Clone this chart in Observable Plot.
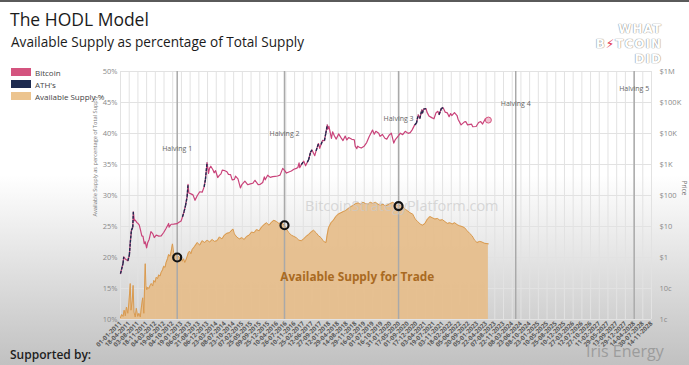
<!DOCTYPE html>
<html><head><meta charset="utf-8">
<script src="https://cdn.jsdelivr.net/npm/d3@7"></script>
<script src="https://cdn.jsdelivr.net/npm/@observablehq/plot@0.6"></script>
<style>
html,body{margin:0;padding:0}
body{width:689px;height:365px;overflow:hidden;position:relative;background:linear-gradient(to bottom,#ffffff 0%,#ffffff 48%,#c1c1c1 100%);font-family:"Open Sans",sans-serif}
#topbar{position:absolute;left:0;top:0;width:689px;height:2px;background:#5a5a5a}
#title{position:absolute;left:10px;top:11px;font-size:17.5px;line-height:1;color:#1b1b1b;font-weight:500;white-space:nowrap}
#subtitle{position:absolute;left:11px;top:35px;font-size:13.6px;line-height:1;color:#1b1b1b;white-space:nowrap}
#legend{position:absolute;left:11px;top:66px;z-index:2;font-size:8px;color:#444}
.row{display:flex;align-items:center;height:12px}
.sw{width:20px;height:8px;margin-right:4px}
#chart{position:absolute;left:0;top:60px}
#logo{position:absolute;right:27px;top:22px;text-align:right;font-weight:700;font-size:12px;line-height:15px;letter-spacing:1px;color:#fff;text-shadow:0 0 1px #888,0 0 1px #888;font-family:"DejaVu Sans",sans-serif}
#logo .bolt{color:#e0304a;text-shadow:none}
#supported{position:absolute;left:10px;top:346px;font-size:12px;font-weight:600;color:#1e1e1e}
#iris{position:absolute;left:586px;top:343px;font-size:16px;line-height:1.1;color:#9c9c9c;font-family:"Open Sans",sans-serif}
</style></head>
<body>
<div id="topbar"></div>
<div id="title">The HODL Model</div>
<div id="subtitle">Available Supply as percentage of Total Supply</div>
<div id="legend"></div>
<div id="chart"></div>
<div id="logo">WHAT<br>B<span class="bolt">⚡</span>TCOIN<br>DID</div>
<div id="supported">Supported by:</div>
<div id="iris">Iris Energy</div>
<script>
// ---------- DATA ----------
const priceDates = ["2011-01-01","2011-02-01","2011-02-10","2011-03-01","2011-04-01","2011-04-20","2011-05-01","2011-05-15","2011-06-01","2011-06-08","2011-06-20","2011-07-01","2011-07-20","2011-08-01","2011-08-20","2011-09-01","2011-09-20","2011-10-05","2011-10-20","2011-11-01","2011-11-18","2011-12-01","2011-12-20","2012-01-10","2012-02-01","2012-02-20","2012-03-15","2012-04-15","2012-05-15","2012-06-15","2012-07-15","2012-08-15","2012-08-20","2012-09-15","2012-10-15","2012-11-28","2012-12-15","2013-01-15","2013-02-01","2013-02-20","2013-03-10","2013-03-30","2013-04-10","2013-04-20","2013-05-10","2013-06-10","2013-07-05","2013-08-01","2013-09-01","2013-10-01","2013-10-25","2013-11-10","2013-11-30","2013-12-18","2013-12-30","2014-01-15","2014-02-10","2014-02-25","2014-03-15","2014-04-10","2014-04-30","2014-05-20","2014-06-05","2014-07-01","2014-08-01","2014-08-20","2014-09-15","2014-10-05","2014-11-01","2014-11-15","2014-12-15","2015-01-14","2015-02-01","2015-03-10","2015-04-15","2015-05-15","2015-06-15","2015-07-12","2015-08-20","2015-09-15","2015-10-15","2015-11-04","2015-11-15","2015-12-15","2016-01-15","2016-02-15","2016-03-15","2016-04-15","2016-05-15","2016-06-17","2016-07-09","2016-08-02","2016-09-01","2016-10-01","2016-11-01","2016-12-01","2016-12-20","2017-01-04","2017-01-12","2017-02-01","2017-03-03","2017-03-25","2017-04-15","2017-05-01","2017-05-25","2017-06-12","2017-07-16","2017-08-01","2017-08-31","2017-09-15","2017-10-01","2017-10-20","2017-11-12","2017-11-28","2017-12-17","2017-12-22","2018-01-06","2018-02-06","2018-02-20","2018-03-15","2018-04-06","2018-05-05","2018-06-01","2018-06-28","2018-07-25","2018-08-14","2018-09-05","2018-10-15","2018-11-14","2018-11-25","2018-12-15","2018-12-25","2019-01-15","2019-02-07","2019-03-15","2019-04-15","2019-05-15","2019-06-26","2019-07-17","2019-08-06","2019-09-10","2019-09-26","2019-10-26","2019-11-25","2019-12-18","2020-01-15","2020-02-12","2020-03-13","2020-04-01","2020-05-11","2020-06-01","2020-07-01","2020-08-01","2020-09-05","2020-10-01","2020-10-25","2020-11-25","2020-12-16","2021-01-08","2021-01-27","2021-02-21","2021-02-28","2021-03-13","2021-04-14","2021-04-25","2021-05-19","2021-06-22","2021-07-20","2021-08-15","2021-09-06","2021-09-21","2021-10-20","2021-11-10","2021-12-04","2021-12-31","2022-01-22","2022-02-10","2022-02-24","2022-03-29","2022-04-30","2022-05-12","2022-06-18","2022-07-30","2022-08-15","2022-09-06","2022-10-25","2022-11-09","2022-12-20","2023-01-20","2023-02-15","2023-03-10","2023-04-14","2023-05-12","2023-05-20"];
const priceValues = [0.30,0.65,1.05,0.90,0.78,1.20,3.0,7.5,9.5,29.6,15.5,16.0,13.5,12.8,11.0,8.2,5.0,4.8,2.8,3.2,2.05,3.0,3.9,6.8,5.9,4.4,5.3,4.9,5.0,6.4,8.8,12.5,9.5,11.8,11.9,12.4,13.4,15.0,20.5,30.0,47,92,230,120,115,105,70,98,132,128,190,330,1150,520,750,880,680,540,630,380,445,500,660,640,585,480,470,320,330,420,345,175,225,290,222,237,248,310,225,230,262,400,320,450,385,405,415,425,455,750,650,530,575,615,700,750,800,1130,790,990,1280,910,1180,1420,2500,2950,1930,2750,4750,3300,4400,6000,5900,10000,19100,13800,17100,6900,11400,8300,6600,9700,7500,5900,8300,6200,7400,6500,6300,3900,3250,3900,3600,3400,3900,5100,7900,12900,9500,11800,10200,8100,9300,7000,6600,8800,10300,4900,6400,8600,10200,9200,11800,10100,10700,13100,19000,21300,40000,30400,57500,45000,61000,63500,49000,37000,32500,29800,47000,52000,40600,65000,67500,49000,46300,35000,44000,38000,47400,38000,28900,19000,23800,24300,19000,20000,16500,16800,22700,24300,20200,30400,26300,27100];

const supplyDates = ["2011-01-01","2011-01-15","2011-02-01","2011-02-15","2011-03-01","2011-03-15","2011-04-01","2011-04-15","2011-05-01","2011-05-10","2011-05-25","2011-06-05","2011-06-15","2011-07-01","2011-07-15","2011-08-01","2011-08-15","2011-09-01","2011-09-15","2011-10-01","2011-10-15","2011-11-01","2011-11-10","2011-11-20","2011-12-01","2011-12-15","2012-01-01","2012-01-15","2012-02-01","2012-02-15","2012-03-01","2012-03-15","2012-04-01","2012-04-15","2012-05-01","2012-05-15","2012-06-01","2012-06-15","2012-07-01","2012-07-15","2012-08-01","2012-08-15","2012-09-01","2012-09-15","2012-10-01","2012-10-15","2012-11-01","2012-11-15","2012-11-28","2012-12-15","2013-01-01","2013-01-15","2013-02-01","2013-02-15","2013-03-01","2013-03-15","2013-04-01","2013-04-15","2013-05-01","2013-05-15","2013-06-01","2013-07-01","2013-08-01","2013-09-01","2013-10-01","2013-11-01","2013-12-01","2014-01-01","2014-02-01","2014-03-01","2014-04-01","2014-05-01","2014-06-01","2014-07-01","2014-08-01","2014-09-01","2014-10-15","2014-11-01","2014-12-01","2015-01-01","2015-02-01","2015-03-01","2015-04-01","2015-05-01","2015-06-01","2015-07-01","2015-08-01","2015-09-01","2015-10-01","2015-11-01","2015-12-01","2016-01-01","2016-02-01","2016-03-01","2016-04-01","2016-05-01","2016-06-01","2016-07-09","2016-08-01","2016-09-01","2016-10-01","2016-11-01","2016-12-01","2017-01-01","2017-02-01","2017-03-01","2017-04-01","2017-05-01","2017-06-01","2017-07-01","2017-08-01","2017-09-01","2017-10-01","2017-11-01","2017-12-01","2017-12-15","2018-01-01","2018-02-01","2018-03-01","2018-04-01","2018-05-01","2018-06-01","2018-07-01","2018-08-01","2018-09-01","2018-10-01","2018-11-01","2018-12-01","2019-01-01","2019-02-01","2019-03-01","2019-04-01","2019-05-01","2019-06-01","2019-07-01","2019-08-01","2019-09-01","2019-10-01","2019-11-01","2019-12-01","2020-01-01","2020-02-01","2020-03-01","2020-04-01","2020-05-11","2020-06-01","2020-07-01","2020-08-01","2020-09-01","2020-10-01","2020-11-01","2020-12-01","2021-01-01","2021-02-01","2021-03-01","2021-04-01","2021-05-01","2021-06-01","2021-07-01","2021-08-01","2021-09-01","2021-10-01","2021-11-01","2021-12-01","2022-01-01","2022-02-01","2022-03-01","2022-04-01","2022-05-01","2022-06-01","2022-07-01","2022-08-01","2022-09-01","2022-10-01","2022-11-01","2022-12-01","2023-01-01","2023-02-01","2023-03-01","2023-04-01","2023-05-20"];
const supplyValues = [10.3,10.8,10.5,11.5,10.6,12.0,11.0,12.8,15.8,11.5,13.0,15.5,11.2,10.4,11.8,10.5,11.0,10.4,12.0,13.5,11.0,19.0,15.5,14.8,15.2,15.0,15.5,15.8,15.4,16.3,16.0,16.8,16.6,17.2,17.0,17.6,18.0,18.6,18.4,19.2,19.8,20.5,20.2,21.0,22.2,20.8,20.3,20.6,20.0,20.2,19.8,20.1,19.4,19.8,19.2,19.6,20.2,20.8,21.0,20.6,21.3,21.8,22.4,22.0,22.7,22.4,22.8,22.5,22.9,22.6,22.7,23.3,23.0,23.6,23.9,24.0,24.6,23.8,23.3,23.0,23.2,22.9,23.4,23.6,24.1,24.0,24.5,24.3,24.9,25.3,25.6,25.2,25.7,26.0,25.8,25.5,25.6,25.2,24.6,24.0,23.6,23.4,23.2,22.8,22.7,23.0,23.4,23.7,24.1,24.4,24.0,23.5,23.2,22.6,22.4,23.6,24.8,25.6,26.0,26.6,27.0,27.2,27.4,27.6,27.9,28.2,28.4,28.7,28.8,28.6,28.9,28.7,28.6,28.9,28.7,28.9,28.6,28.4,28.6,28.3,28.5,28.7,28.9,28.6,28.3,28.5,28.2,27.8,27.5,27.2,27.0,26.2,25.8,25.4,25.2,25.5,26.2,26.6,26.4,26.2,26.3,26.0,26.1,25.8,25.5,25.6,25.4,25.6,25.3,25.1,25.0,24.8,24.3,23.9,23.5,22.8,22.4,22.6,22.5,22.3,22.2];

const halvingDates = ["2012-11-28","2016-07-09","2020-05-11","2024-04-20","2028-04-15"];
const halvingNames = ["Halving 1","Halving 2","Halving 3","Halving 4","Halving 5"];
const ringDates = ["2012-11-28","2016-07-09","2020-05-11"];
const ringValues = [20.0, 25.2, 28.3];

const pctTicks = [10,15,20,25,30,35,40,45,50];
const pctTickLabels = ["10%","15%","20%","25%","30%","35%","40%","45%","50%"];
const priceTicks = [0.01,0.1,1,10,100,1000,10000,100000,1000000];
const priceTickLabels = ["1c","10c","$1","$10","$100","$1K","$10K","$100K","$1M"];
const xTickStart = "2011-01-01", xTickStepDays = 107, xTickCount = 62;

const legendItems = ["Bitcoin","ATH's","Available Supply %"];
const legendColors = ["#d4547f","#1d2a4f","#ecc48f"];

// ---------- BUILD ----------
const parse = d3.utcParse("%Y-%m-%d");
const toPct = p => 10 + (Math.log10(p) + 2) * 5; // price (log) on the shared vertical grid
const price = priceDates.map((d,i)=>({date:parse(d), price:priceValues[i]}));
let runMax = -Infinity;
price.forEach(d=>{ d.ath = d.price >= runMax; runMax = Math.max(runMax, d.price); d.pct = toPct(d.price); });
const athLinks = [];
for (let i=1;i<price.length;i++) if (price[i].ath) athLinks.push({a:price[i-1], b:price[i]});
const supply = supplyDates.map((d,i)=>({date:parse(d), pct:supplyValues[i]}));
const halvings = halvingDates.map((d,i)=>({date:parse(d), name:halvingNames[i], ly:37.6 + 2.4*i}));
const rings = ringDates.map((d,i)=>({date:parse(d), pct:ringValues[i]}));
const xTicks = d3.range(xTickCount).map(i=>d3.utcDay.offset(parse(xTickStart), i*xTickStepDays));
const priceTickMap = new Map(priceTicks.map((p,i)=>[toPct(p), priceTickLabels[i]]));
const pctTickMap = new Map(pctTicks.map((p,i)=>[p, pctTickLabels[i]]));
const fmt = d3.utcFormat("%d-%m-%Y");
const last = price[price.length-1];

// legend
const lg = document.getElementById("legend");
legendItems.forEach((t,i)=>{
  const r=document.createElement("div"); r.className="row";
  r.innerHTML=`<div class="sw" style="background:${legendColors[i]}"></div><span>${t}</span>`;
  lg.appendChild(r);
});

const chart = Plot.plot({
  width: 689, height: 305,
  marginLeft: 120, marginRight: 38, marginTop: 11, marginBottom: 46,
  style: {background: "transparent", fontFamily: "'Open Sans', sans-serif", overflow: "visible"},
  x: {type: "utc", domain: [parse("2011-01-01"), parse("2028-11-14")]},
  y: {domain: [10, 50]},
  marks: [
    Plot.ruleX(xTicks, {stroke: "#e2e2e2", strokeWidth: 1}),
    Plot.ruleY(pctTicks, {stroke: "#e2e2e2", strokeWidth: 1}),
    Plot.areaY(supply, {x: "date", y1: 10, y2: "pct", fill: "#e6bd8a", fillOpacity: 0.92, curve: "linear"}),
    Plot.lineY(supply, {x: "date", y: "pct", stroke: "#d99a4f", strokeWidth: 1}),
    Plot.ruleX(halvings, {x: "date", stroke: "#a9a9a9", strokeWidth: 1.5}),
    Plot.text(halvings, {x: "date", y: "ly", text: "name", fontSize: 7, fill: "#666"}),
    Plot.text(["BitcoinStrategyPlatform.com"], {x: () => parse("2020-06-20"), y: () => 28.2, text: d => d, fontSize: 14.5, fill: "#c9c9c9", fillOpacity: 0.7}),
    Plot.text(["Available Supply for Trade"], {x: () => parse("2018-12-20"), y: () => 16.8, text: d => d, fontSize: 11.8, fontWeight: 700, fill: "#a96a22"}),
    Plot.line(price, {x: "date", y: "pct", stroke: "#c9437a", strokeWidth: 1.2}),
    Plot.link(athLinks, {x1: d => d.a.date, y1: d => d.a.pct, x2: d => d.b.date, y2: d => d.b.pct, stroke: "#1d2a4f", strokeWidth: 1.4, strokeDasharray: "3,1.2"}),
    Plot.dot([last], {x: "date", y: "pct", r: 3, stroke: "#d4547f", fill: "#f2c2d2", strokeWidth: 1}),
    Plot.dot(rings, {x: "date", y: "pct", r: 4, stroke: "#111", strokeWidth: 2.2, fill: "none"}),
    Plot.axisY(pctTicks, {anchor: "left", tickSize: 0, tickPadding: 3, fontSize: 7.5, fill: "#8a8a8a", tickFormat: d => pctTickMap.get(d), label: null}),
    Plot.axisY([...priceTickMap.keys()], {anchor: "right", tickSize: 0, tickPadding: 8, fontSize: 7.5, fill: "#8a8a8a", tickFormat: d => priceTickMap.get(d), label: null}),
    Plot.text(["Available Supply as percentage of Total Supply"], {frameAnchor: "left", y: () => 26.6, dx: -25, rotate: -90, fontSize: 5.6, fill: "#777", text: d => d}),
    Plot.text(["Price"], {frameAnchor: "right", dx: 33, rotate: 90, fontSize: 6.5, fill: "#777", text: d => d}),
    Plot.axisX(xTicks, {tickSize: 0, tickPadding: 3, tickRotate: -45, fontSize: 6.3, fontWeight: 700, fill: "#5a5a5a", tickFormat: fmt, label: null})
  ]
});
document.getElementById("chart").appendChild(chart);
</script>
</body></html>
